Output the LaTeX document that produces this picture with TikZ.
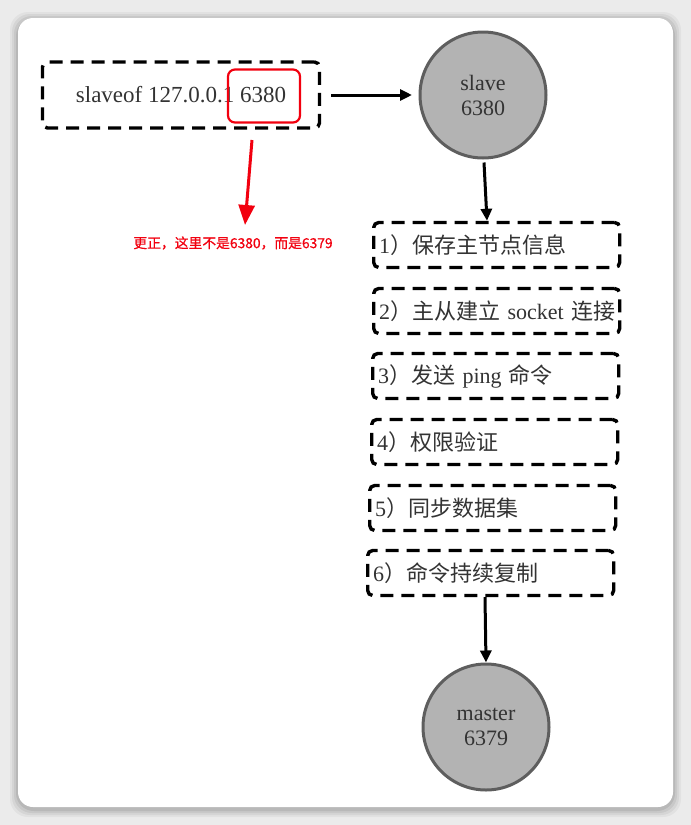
\documentclass[tikz,border=0pt]{standalone}
\usepackage{fontspec}
\setmainfont{Liberation Serif}
\newfontfamily\cjk{Noto Sans CJK SC}
\newfontfamily\cjkb[FakeBold=0.6]{Noto Sans CJK SC}
\usetikzlibrary{arrows.meta}
\definecolor{bggray}{HTML}{EBEBEB}
\definecolor{circfill}{HTML}{B3B3B3}
\definecolor{circline}{HTML}{5E5E5E}
\definecolor{txt}{HTML}{333333}
\definecolor{redmark}{HTML}{F2000F}
\newcommand{\zhtext}[1]{{\cjk #1}}
\tikzset{
  dashbox/.style={draw=black, line width=3.4pt, dash pattern=on 13pt off 8pt, rounded corners=5pt},
  stepbox/.style={dashbox, minimum height=45pt, text width=241pt, inner xsep=2.5pt, align=left, anchor=west, font=\fontsize{22}{24}\selectfont, text=txt},
  circnode/.style={circle, fill=circfill, draw=circline, line width=3pt, minimum size=126pt, align=center, font=\fontsize{22}{25}\selectfont, text=txt, inner sep=0pt},
  flow/.style={line width=3pt, -{Triangle[length=12pt,width=11pt]}},
}
\begin{document}
\begin{tikzpicture}[x=1pt,y=-1pt]
\useasboundingbox (0,0) rectangle (691,825);
\fill[bggray] (0,0) rectangle (691,825);
% soft shadow of the card
\foreach \d/\o in {8/0.04,6/0.05,4/0.06,2/0.08}{
  \fill[black, opacity=\o, rounded corners=18pt] (18-\d,18-\d+2) rectangle (673+\d,807+\d+2);
}
\fill[white, rounded corners=15pt] (18,18) rectangle (673,807);

% slaveof box
\node[dashbox, minimum width=277pt, minimum height=66pt, font=\fontsize{23}{26}\selectfont, text=txt] (cmd) at (181,95) {slaveof 127.0.0.1 6380};
\node[draw=redmark, line width=2.2pt, rounded corners=7pt, minimum width=72pt, minimum height=53pt] (hl) at (264,96) {};

% slave circle
\node[circnode] (slave) at (483,95) {slave\\6380};
\draw[flow] (cmd.east) ++(10,0) coordinate (cmdout) -- (slave.west -| 412,0) coordinate (slin);

% steps
\node[stepbox] (s1) at (372,245) {\hspace{3pt}1\zhtext{）保存主节点信息}};
\node[stepbox] (s2) at (372,311) {\hspace{3pt}2\zhtext{）主从建立 }socket\zhtext{ 连接}};
\node[stepbox] (s3) at (371,376) {\hspace{3pt}3\zhtext{）发送 }ping\zhtext{ 命令}};
\node[stepbox] (s4) at (370,442) {\hspace{3pt}4\zhtext{）权限验证}};
\node[stepbox] (s5) at (368,508) {\hspace{3pt}5\zhtext{）同步数据集}};
\node[stepbox] (s6) at (366,573) {\hspace{3pt}6\zhtext{）命令持续复制}};

\node[circnode] (master) at (486,727) {master\\6379};

\draw[flow] (slave.south) ++(1,3) -- (s1.north -| 487,0);
\draw[flow] (s6.south -| 485,0) -- (master.north);

% red correction arrow
\coordinate (ra) at (252,140);
\coordinate (rb) at (245,225);
\draw[redmark, line width=3pt, -{Triangle[length=20pt,width=16pt]}] (ra) -- (rb);
\node[text=redmark, font=\cjkb\fontsize{13.8}{16}\selectfont] (note) at (233,243) {更正，这里不是6380，而是6379};
\end{tikzpicture}
\end{document}
